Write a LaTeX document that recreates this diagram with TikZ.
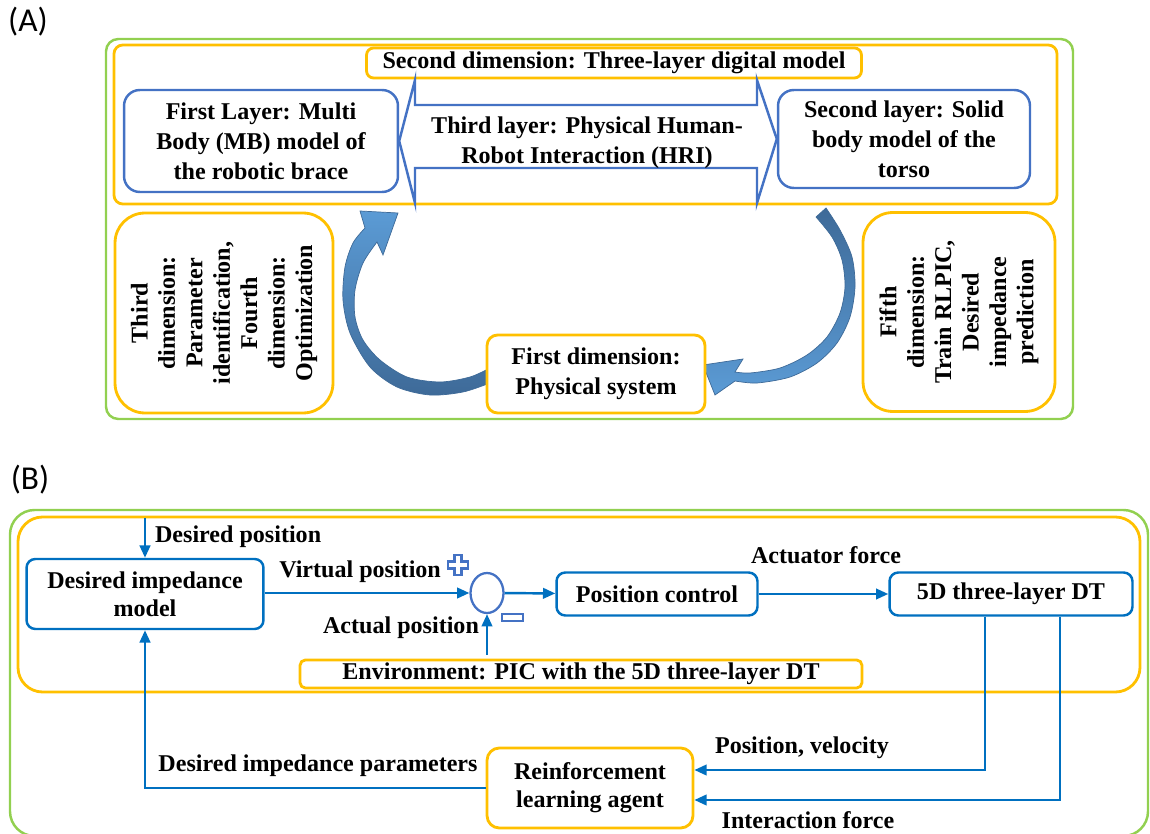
\documentclass[tikz,border=0pt]{standalone}
\usepackage{fontspec}
\setmainfont{Liberation Serif}
\newfontfamily\tagfont{Carlito}
\usetikzlibrary{shapes.geometric,arrows.meta}
\definecolor{ablue}{RGB}{68,114,196}
\definecolor{bblue}{RGB}{0,112,192}
\definecolor{orng}{RGB}{255,192,0}
\definecolor{grn}{RGB}{146,208,80}
\definecolor{adark}{RGB}{62,106,152}
\definecolor{alight}{RGB}{91,155,213}
\tikzset{
  txt/.style={font=\bfseries\fontsize{13.7}{17}\selectfont, align=center},
  lbl/.style={font=\bfseries\fontsize{13.7}{16}\selectfont, inner sep=1pt},
  tag/.style={font=\tagfont\fontsize{19}{22}\selectfont},
  bbox/.style={txt, draw=ablue, line width=1.4pt, rounded corners=9pt, fill=white},
  cbox/.style={txt, draw=bblue, line width=1.4pt, rounded corners=5pt, fill=white, font=\bfseries\fontsize{13.7}{16}\selectfont},
  obox/.style={txt, draw=orng, line width=1.6pt, rounded corners=6pt, fill=white},
  gframe/.style={draw=grn, line width=1.4pt},
  oframe/.style={draw=orng, line width=1.6pt},
  curvearrow/.style={draw=adark, line width=0.4pt},
  sumnode/.style={ellipse, draw=ablue, line width=1.3pt, minimum width=0.66cm, minimum height=0.8cm, inner sep=0pt},
  sign/.style={draw=ablue, line width=1.2pt, fill=white},
  flow/.style={draw=bblue, line width=1.4pt, -{Triangle[length=7pt,width=6pt]}}
}
\begin{document}
\begin{tikzpicture}[x=0.02cm,y=-0.02cm]
\useasboundingbox (0,0) rectangle (1150,834);
% (A) five dimensions
\node[tag] (taga) at (28,22) {(A)};
\draw[gframe, rounded corners=7pt] (106,39) rectangle (1073,419);
\draw[oframe, rounded corners=5pt] (114,45) rectangle (1057,204);
\scope
\shade[curvearrow, top color=alight, bottom color=adark]
  plot[smooth] coordinates {(490,383) (463,392) (430,395) (397,387) (370,367) (350,333) (343,300) (345,267) (353,243) (365,228)}
  -- (360,211) -- (398,213) -- (383,255)
  -- plot[smooth] coordinates {(377,242) (363,263) (355,290) (355,317) (363,340) (380,360) (407,377) (440,382) (470,377) (490,368)}
  -- cycle;
\shade[curvearrow, top color=adark, bottom color=alight]
  plot[smooth] coordinates {(826,208) (840,230) (852,257) (855,287) (850,317) (837,343) (817,363) (790,377) (757,383) (735,381)}
  -- (715,395) -- (703,365) -- (743,359)
  -- plot[smooth] coordinates {(735,372) (750,373) (780,368) (807,355) (827,337) (840,313) (845,287) (842,260) (832,237) (816,217)}
  -- cycle;
\endscope
\node[obox, rounded corners=4pt, minimum width=9.9cm, minimum height=0.6cm, inner sep=0pt] (dimtwo) at (614,63) {Second dimension: Three-layer digital model};
\node[bbox, minimum width=5.48cm, minimum height=2.04cm] (layerone) at (261,141) {First Layer: Multi\\Body (MB) model of\\the robotic brace};
\node[bbox, minimum width=5.04cm, minimum height=1.96cm] (layertwo) at (904,139) {Second layer: Solid\\body model of the\\torso};
\draw[draw=ablue, line width=1.4pt, fill=white]
  (layerone.east) -- (415,80) -- (415,105) -- (757,105) -- (757,80) -- (layertwo.west)
  -- (757,203) -- (757,168) -- (415,168) -- (415,203) -- cycle;
\node[txt] (hri) at (587,143) {Third layer: Physical Human-\\Robot Interaction (HRI)};
\node[obox, rounded corners=17pt, rotate=90, minimum width=4cm, minimum height=4.36cm, font=\bfseries\fontsize{13.7}{15.6}\selectfont] (dimthreefour) at (224,313)
  {Third\\dimension:\\Parameter\\identification,\\Fourth\\dimension:\\Optimization};
\node[obox, rounded corners=17pt, rotate=90, minimum width=3.98cm, minimum height=3.84cm, font=\bfseries\fontsize{13.7}{15.6}\selectfont] (dimfive) at (959,312)
  {Fifth\\dimension:\\Train RLPIC,\\Desired\\impedance\\prediction};
\node[obox, rounded corners=6pt, minimum width=4.36cm, minimum height=1.56cm] (dimone) at (596,374) {First dimension:\\Physical system};
% (B) control loop
\node[tag] (tagb) at (30,480) {(B)};
\draw[gframe, rounded corners=14pt] (10,510) rectangle (1148,836);
\draw[oframe, rounded corners=14pt] (18,517) rectangle (1140,692);
\node[cbox, minimum width=4.74cm, minimum height=1.4cm] (impmodel) at (145,594) {Desired impedance\\model};
\node[sumnode] (sum) at (487,593) {};
\node[cbox, minimum width=4.02cm, minimum height=0.86cm] (posctrl) at (657,594) {Position control};
\node[cbox, minimum width=4.86cm, minimum height=0.86cm] (dt) at (1011,594) {5D three-layer DT};
\node[obox, rounded corners=3pt, minimum width=11.24cm, minimum height=0.56cm, inner sep=0pt] (env) at (581,674) {Environment: PIC with the 5D three-layer DT};
\node[obox, rounded corners=7pt, minimum width=4.12cm, minimum height=1.6cm, font=\bfseries\fontsize{13.7}{16}\selectfont] (agent) at (590,788) {Reinforcement\\learning agent};
\coordinate (dpin) at (145,518);
\coordinate (apin) at (487,655);
\draw[flow] (dpin) -- (impmodel.north);
\draw[flow] (impmodel.east |- sum) -- (sum.west);
\draw[flow] (sum) -- (posctrl);
\draw[flow] (posctrl) -- (dt);
\draw[flow] (apin) -- (sum.south);
\draw[flow] ([xshift=-0.52cm]dt.south) |- ([yshift=0.36cm]agent.east);
\draw[flow] ([xshift=0.98cm]dt.south) |- ([yshift=-0.24cm]agent.east);
\draw[flow] (agent.west) -| (impmodel.south);
\draw[sign] (454.5,555) -- (461.5,555) -- (461.5,561.5) -- (468,561.5) -- (468,568.5) -- (461.5,568.5)
  -- (461.5,575) -- (454.5,575) -- (454.5,568.5) -- (448,568.5) -- (448,561.5) -- (454.5,561.5) -- cycle;
\draw[sign, line width=1.5pt] (502,614) rectangle (523,621);
\node[lbl, anchor=west] (dplbl) at (153,537) {Desired position};
\node[lbl, anchor=east] (vplbl) at (443,572) {Virtual position};
\node[lbl, anchor=east] (aplbl) at (481,628) {Actual position};
\node[lbl] (aflbl) at (826,555) {Actuator force};
\node[lbl] (pvlbl) at (802,748) {Position, velocity};
\node[lbl] (iflbl) at (808,820) {Interaction force};
\node[lbl] (iplbl) at (318,766) {Desired impedance parameters};
\end{tikzpicture}
\end{document}
